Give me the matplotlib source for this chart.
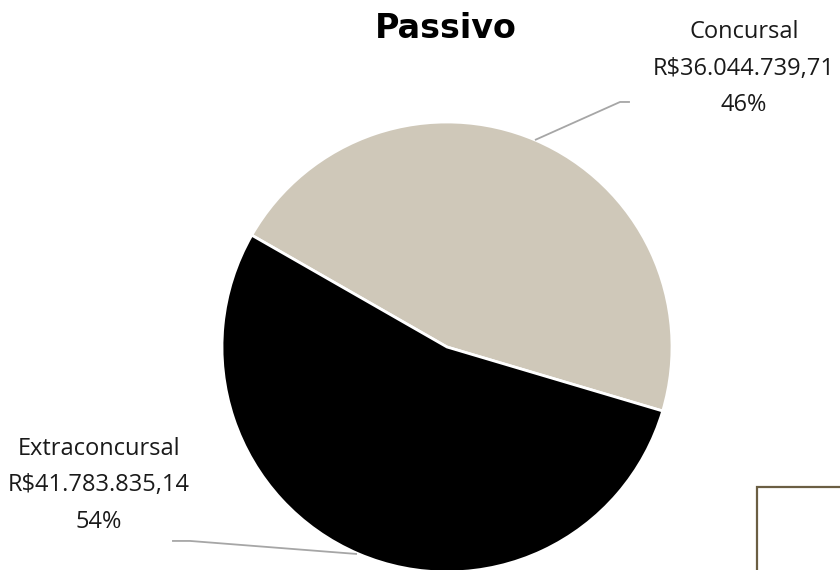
import matplotlib
matplotlib.use("Agg")
import matplotlib.pyplot as plt
from matplotlib.patches import Rectangle
import numpy as np

categories = ["Concursal", "Extraconcursal"]
values = [36044739.71, 41783835.14]
value_labels = ["R$36.044.739,71", "R$41.783.835,14"]
colors = ["#CFC8B9", "#000000"]
title = "Passivo"

plt.rcParams['font.family'] = ['Open Sans', 'DejaVu Sans']

fig = plt.figure(figsize=(8.4, 5.7), dpi=100)
W, H = 840, 570
cx, cy, r = 447, 347, 225
ax = fig.add_axes([(cx - r) / W, (H - cy - r) / H, 2 * r / W, 2 * r / H])

ax.pie(values, colors=colors, startangle=150.2, counterclock=False, radius=1,
       wedgeprops=dict(edgecolor='white', linewidth=2))
ax.set_xlim(-1, 1)
ax.set_ylim(-1, 1)
ax.set_aspect('equal')
ax.axis('off')

total = sum(values)
pcts = [f"{round(v / total * 100):.0f}%" for v in values]

# leader lines (data coords of pie axes)
lines = [
    ([0.391, 0.769, 0.813], [0.92, 1.089, 1.089]),
    ([-0.40, -1.142, -1.222], [-0.92, -0.862, -0.862]),
]
for xs, ys in lines:
    ax.plot(xs, ys, color='#A6A6A6', lw=1.3, clip_on=False, solid_capstyle='butt')

# label blocks: x centre, baseline of first line (pie data coords)
label_pos = [(1.32, (cy - 38) / r), (-1.547, (cy - 455) / r)]
dy = 36.5 / r
for (lx, ly), cat, vl, pc in zip(label_pos, categories, value_labels, pcts):
    for i, t in enumerate([cat, vl, pc]):
        ax.text(lx, ly - dy * i, t, ha='center', va='baseline', fontsize=17,
                color='#1a1a1a', clip_on=False)

fig.text(446 / W, 1 - 38 / H, title, ha='center', va='baseline', fontsize=24,
         fontweight='bold', color='black', family=['DejaVu Sans'])

fig.add_artist(Rectangle((757 / W, -0.2), 0.3, 0.2 + (H - 487) / H,
                         transform=fig.transFigure, fill=False,
                         edgecolor='#6B5E43', linewidth=1.6))

fig.savefig("out.png", dpi=100)
